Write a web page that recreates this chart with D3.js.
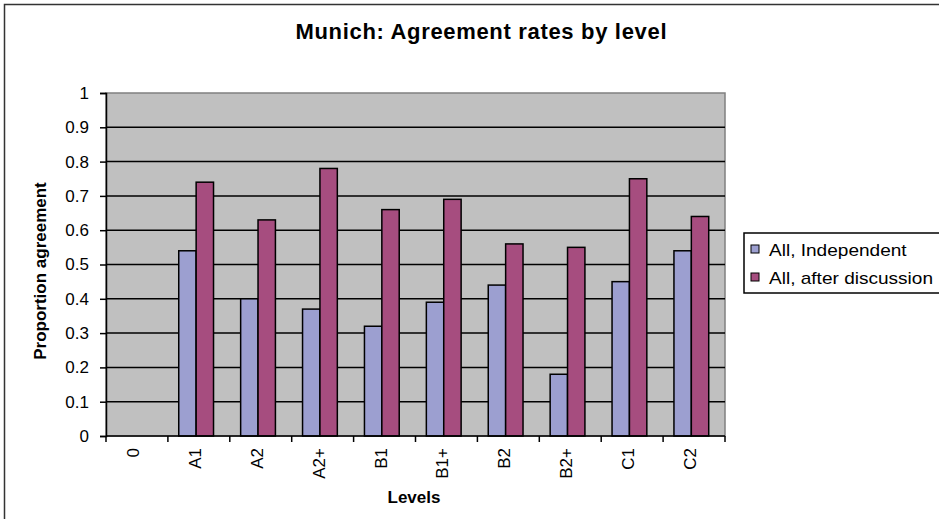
<!DOCTYPE html>
<html>
<head>
<meta charset="utf-8">
<script src="https://cdn.jsdelivr.net/npm/d3@7"></script>
<style>
  body { margin: 0; background: #fff; }
  text { font-family: "Liberation Sans", Arial, sans-serif; }
</style>
</head>
<body>
<div id="chart"></div>
<script>
"use strict";

// data
var levels = ["0", "A1", "A2", "A2+", "B1", "B1+", "B2", "B2+", "C1", "C2"];
var seriesNames = ["All, Independent", "All, after discussion"];
var independent = [null, 0.54, 0.40, 0.37, 0.32, 0.39, 0.44, 0.18, 0.45, 0.54];
var afterDiscussion = [null, 0.74, 0.63, 0.78, 0.66, 0.69, 0.56, 0.55, 0.75, 0.64];
var yTicks = [0, 0.1, 0.2, 0.3, 0.4, 0.5, 0.6, 0.7, 0.8, 0.9, 1];
var colors = ["#9c9fd0", "#a64d7f"];

var W = 939, H = 519;
var margin = { top: 93, right: 214, bottom: 83, left: 106 },
  width = W - margin.left - margin.right,
  height = H - margin.top - margin.bottom;

var svg = d3.select("#chart").append("svg")
  .attr("width", W)
  .attr("height", H);

// outer chart frame
svg.append("rect")
  .attr("x", 4.5).attr("y", 4.5)
  .attr("width", W + 10).attr("height", H + 10)
  .attr("fill", "#fff")
  .attr("stroke", "#333")
  .attr("stroke-width", 1.5);

svg.append("text")
  .attr("x", 481).attr("y", 39)
  .attr("text-anchor", "middle")
  .attr("font-size", 22)
  .attr("font-weight", "bold")
  .attr("textLength", 371)
  .text("Munich: Agreement rates by level");

var g = svg.append("g")
  .attr("transform", "translate(" + margin.left + "," + margin.top + ")");

var x = d3.scaleBand().domain(levels).range([0, width]).padding(0);
var xs = d3.scaleBand().domain(seriesNames).range([0, x.bandwidth()])
  .paddingInner(0).paddingOuter(0.78).align(0.4);
var y = d3.scaleLinear().domain([0, 1]).range([height, 0]);

// plot background
g.append("rect")
  .attr("width", width).attr("height", height)
  .attr("fill", "#c0c0c0")
  .attr("stroke", "#808080")
  .attr("stroke-width", 1.5);

// gridlines
g.selectAll("line.grid")
  .data(yTicks.filter(function (t) { return t > 0 && t < 1; }))
  .enter().append("line")
  .attr("class", "grid")
  .attr("x1", 0).attr("x2", width)
  .attr("y1", function (d) { return y(d); })
  .attr("y2", function (d) { return y(d); })
  .attr("stroke", "#000")
  .attr("stroke-width", 1.5);

// bars
var rows = [];
levels.forEach(function (lv, i) {
  [independent[i], afterDiscussion[i]].forEach(function (v, j) {
    if (v !== null) rows.push({ level: lv, series: seriesNames[j], value: v, k: j });
  });
});

g.selectAll("rect.bar")
  .data(rows)
  .enter().append("rect")
  .attr("class", "bar")
  .attr("x", function (d) { return x(d.level) + xs(d.series); })
  .attr("y", function (d) { return y(d.value); })
  .attr("width", xs.bandwidth())
  .attr("height", function (d) { return height - y(d.value); })
  .attr("fill", function (d) { return colors[d.k]; })
  .attr("stroke", "#000")
  .attr("stroke-width", 1.5);

// y axis
var yAxis = g.append("g")
  .call(d3.axisLeft(y).tickValues(yTicks).tickSize(6).tickFormat(d3.format("")));
yAxis.attr("font-size", null).attr("font-family", null);
yAxis.select(".domain").attr("stroke", "#000").attr("stroke-width", 1.5);
yAxis.selectAll(".tick line").attr("stroke", "#000").attr("stroke-width", 1.5);
yAxis.selectAll(".tick text")
  .style("font-size", "17px")
  .attr("fill", "#000")
  .attr("x", -17);

// x axis: ticks on category boundaries
var xAxis = g.append("g")
  .attr("transform", "translate(0," + height + ")");
xAxis.append("line")
  .attr("x1", 0).attr("x2", width)
  .attr("stroke", "#000").attr("stroke-width", 1.5);
xAxis.selectAll("line.tk")
  .data(levels.concat(["end"]))
  .enter().append("line")
  .attr("class", "tk")
  .attr("x1", function (d, i) { return i * x.step(); })
  .attr("x2", function (d, i) { return i * x.step(); })
  .attr("y1", 0).attr("y2", 6)
  .attr("stroke", "#000").attr("stroke-width", 1.5);
xAxis.selectAll("text")
  .data(levels)
  .enter().append("text")
  .attr("transform", function (d) {
    return "translate(" + (x(d) + x.bandwidth() / 2 + 2) + ",12) rotate(-90)";
  })
  .attr("text-anchor", "end")
  .style("font-size", "17px")
  .text(function (d) { return d; });

// axis titles
svg.append("text")
  .attr("transform", "translate(46,271) rotate(-90)")
  .attr("text-anchor", "middle")
  .attr("font-size", 17)
  .attr("font-weight", "bold")
  .text("Proportion agreement");

svg.append("text")
  .attr("x", 414).attr("y", 503)
  .attr("text-anchor", "middle")
  .attr("font-size", 17)
  .attr("font-weight", "bold")
  .text("Levels");

// legend
var legend = svg.append("g").attr("transform", "translate(744,233)");
legend.append("rect")
  .attr("width", 220).attr("height", 60)
  .attr("fill", "#fff")
  .attr("stroke", "#000")
  .attr("stroke-width", 1.5);
var li = legend.selectAll("g.item")
  .data(seriesNames)
  .enter().append("g")
  .attr("class", "item")
  .attr("transform", function (d, i) { return "translate(0," + (i * 28) + ")"; });
li.append("rect")
  .attr("x", 7).attr("y", 12)
  .attr("width", 8).attr("height", 8)
  .attr("fill", function (d, i) { return colors[i]; })
  .attr("stroke", "#000");
li.append("text")
  .attr("x", 25).attr("y", 23)
  .style("font-size", "17px")
  .text(function (d) { return d; })
  .each(function () {
    // the original text is a little wider than the font renders
    var w = this.getComputedTextLength();
    d3.select(this).attr("textLength", w * 1.12).attr("lengthAdjust", "spacingAndGlyphs");
  });
</script>
</body>
</html>
